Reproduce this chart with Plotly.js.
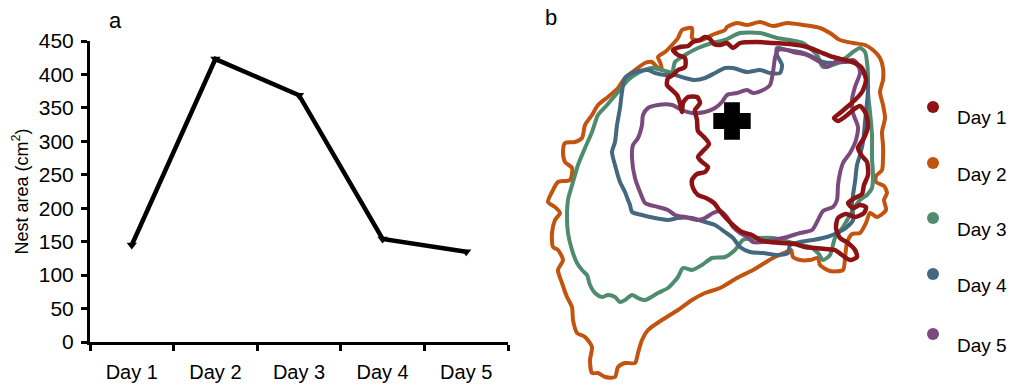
<!DOCTYPE html>
<html>
<head>
<meta charset="utf-8">
<script src="https://cdn.plot.ly/plotly-3.0.1.min.js"></script>
<style>html,body{margin:0;padding:0;background:#fff;}#chart{width:1010px;height:387px;}</style>
</head>
<body>
<div id="chart"></div>
<script>
// ---------- Panel a: nest area per day ----------
const days = ["Day 1", "Day 2", "Day 3", "Day 4", "Day 5"];
const nestArea = [145, 423, 369, 154, 135];
const yTicks = [0, 50, 100, 150, 200, 250, 300, 350, 400, 450];

// ---------- Panel b: nest outlines (image-space units) ----------
const day1X = [673,680,688,693,700,705,710,714,720,727,733,740,757,773,790,807,820,833,845,855,862,866,862,855,847,840,834,838,846,853,860,866,868,864,858,862,867,868,864,862,855,848,853,860,866,864,855,846,838,836,840,848,855,857,850,842,835,826,815,805,795,782,770,760,752,742,734,726,720,714,706,698,693,692,697,705,708,702,698,703,709,704,698,697,695,700,697,688,683,682,680,677,672,667,668,673,678,685,685,678,673];
const day1Y = [50,47,46,42,40,37,39,44,45,43,48,43,42,43,44,47,52,57,60,63,68,80,92,100,107,113,118,121,116,110,106,114,126,138,148,156,162,175,185,194,198,203,208,205,207,213,217,214,218,228,238,243,250,257,260,255,250,249,248,247,244,243,242,240,235,232,226,218,211,203,198,195,188,180,174,172,167,162,157,151,144,137,131,120,110,103,97,97,103,112,103,95,90,85,78,75,70,67,58,55,50];

const day2X = [548,552,558,570,572,565,563,565,575,582,585,592,598,608,618,625,635,645,652,657,662,660,658,665,672,678,682,692,692,695,702,712,725,727,737,747,760,773,787,803,820,830,840,853,865,873,880,883,883,880,883,885,882,883,883,882,876,876,884,887,884,886,877,870,866,860,852,847,845,843,830,820,818,810,800,793,791,784,773,753,737,720,705,692,678,662,648,642,638,635,625,618,615,605,598,592,590,592,585,577,573,572,567,562,558,563,558,553,552,555,560,555,548];
const day2Y = [202,192,182,180,168,162,152,143,142,138,125,115,105,97,88,78,70,63,62,67,70,62,57,52,45,38,30,28,38,40,40,35,30,27,23,25,22,26,23,25,28,33,40,43,45,50,58,68,80,92,105,118,132,145,158,170,176,182,186,193,200,210,217,213,223,233,234,243,258,270,271,265,258,260,260,257,250,253,258,270,278,288,293,300,310,320,330,340,353,363,363,367,377,377,373,373,360,347,337,333,320,307,297,283,270,260,250,247,233,220,213,207,202];

const day3X = [568,567,568,572,577,582,587,590,595,602,608,615,620,625,632,638,645,658,668,673,678,683,692,702,712,725,735,743,760,773,793,810,818,823,830,835,843,853,860,867,872,873,872,872,870,868,868,867,865,860,853,847,833,823,817,803,790,777,760,740,725,712,698,685,675,672,662,652,638,628,618,607,598,592,585,578,573,568];
const day3Y = [200,217,233,250,263,270,275,285,293,297,295,297,302,300,295,298,300,293,288,283,277,268,270,265,258,257,250,240,238,238,243,247,253,260,255,238,227,210,200,195,188,175,158,135,112,92,75,62,52,48,52,57,65,67,55,43,40,38,33,33,40,43,48,55,62,72,70,68,73,80,92,105,115,132,148,165,182,200];

const day4X = [628,625,620,615,612,615,617,620,622,625,635,648,655,665,675,685,695,705,715,725,733,747,760,770,780,782,777,777,787,800,813,823,833,843,853,863,868,867,865,863,860,857,855,853,852,853,847,837,827,813,800,790,788,777,763,750,740,733,725,715,705,692,678,668,655,642,632,630,628];
const day4Y = [200,192,182,165,152,142,125,108,92,78,72,70,73,75,75,78,80,78,73,68,68,72,70,73,73,65,55,48,50,52,57,62,63,62,62,72,85,102,122,142,155,165,182,195,205,220,227,233,237,240,242,245,253,255,253,252,247,238,232,225,222,218,218,220,218,215,212,205,200];

const day5X = [645,640,635,632,633,638,642,643,648,658,672,682,692,705,715,722,727,737,747,753,763,770,773,775,778,787,793,807,820,827,835,845,853,858,860,855,852,853,858,856,850,843,840,838,837,833,823,818,812,800,787,773,763,753,747,740,733,727,720,713,705,698,685,675,668,658,650,645];
const day5Y = [203,192,178,158,145,138,125,115,108,105,105,110,113,112,108,102,95,93,90,93,90,85,72,58,50,50,52,55,62,67,62,62,60,65,73,87,100,113,127,140,153,163,173,185,200,207,211,220,230,233,237,240,242,242,237,233,227,217,211,213,218,220,217,215,210,207,205,203];

const markX = [732];
const markY = [121];

const outlineNames = ["Day 1", "Day 2", "Day 3", "Day 4", "Day 5"];
const outlineColors = ["#8c1213", "#c2540f", "#4f8b6f", "#44687f", "#7b4a7c"];

// ---------- helpers ----------
const FONT = "'Liberation Sans', Arial, sans-serif";
const W = 1010, H = 387;
const px = x => x / W;
const py = y => 1 - y / H;

const outlines = [
  {x: day2X, y: day2Y, i: 1},
  {x: day3X, y: day3Y, i: 2},
  {x: day4X, y: day4Y, i: 3},
  {x: day5X, y: day5Y, i: 4},
  {x: day1X, y: day1Y, i: 0}
];

const traces = [{
  type: "scatter", mode: "lines+markers",
  x: days, y: nestArea, xaxis: "x", yaxis: "y",
  line: {color: "#000", width: 4.5},
  marker: {symbol: "triangle-down", size: 9, color: "#000"},
  hoverinfo: "skip"
}];

outlines.forEach(o => {
  traces.push({
    type: "scatter", mode: "lines",
    x: o.x, y: o.y, xaxis: "x2", yaxis: "y2",
    name: outlineNames[o.i],
    line: {color: outlineColors[o.i], width: o.i === 0 ? 4.5 : 4, shape: "spline", smoothing: 0.7},
    hoverinfo: "skip"
  });
});

traces.push({
  type: "scatter", mode: "markers",
  x: markX, y: markY, xaxis: "x2", yaxis: "y2",
  marker: {symbol: "cross", size: 27, color: "#000", line: {color: "#000", width: 5}},
  hoverinfo: "skip"
});

// legend for panel b
const legendDotY = [107, 163, 218, 274, 334];
const shapes = [];
const annotations = [
  {text: "a", x: px(115), y: py(20), xref: "paper", yref: "paper", showarrow: false, xanchor: "center", yanchor: "middle", font: {family: FONT, size: 22, color: "#000"}},
  {text: "b", x: px(551), y: py(18), xref: "paper", yref: "paper", showarrow: false, xanchor: "center", yanchor: "middle", font: {family: FONT, size: 22, color: "#000"}}
];
outlineNames.forEach((n, i) => {
  const cy = legendDotY[i];
  shapes.push({type: "circle", xref: "paper", yref: "paper",
    x0: px(927), x1: px(939), y0: py(cy + 6), y1: py(cy - 6),
    fillcolor: outlineColors[i], line: {width: 0}});
  annotations.push({text: n, x: px(955), y: py(cy + 11), xref: "paper", yref: "paper",
    showarrow: false, xanchor: "left", yanchor: "middle",
    font: {family: FONT, size: 19, color: "#000"}});
});

const layout = {
  width: W, height: H,
  margin: {l: 0, r: 0, t: 0, b: 0},
  paper_bgcolor: "#fff", plot_bgcolor: "rgba(0,0,0,0)",
  showlegend: false,
  font: {family: FONT, color: "#000"},
  xaxis: {
    domain: [px(90), px(508)], anchor: "y",
    type: "category", range: [-0.5, 4.5], tickson: "boundaries",
    ticks: "outside", ticklen: 6, tickwidth: 3, tickcolor: "#000",
    ticklabelstandoff: 10,
    showline: true, linewidth: 3, linecolor: "#000",
    showgrid: false, zeroline: false,
    tickfont: {family: FONT, size: 20, color: "#000"}
  },
  yaxis: {
    domain: [py(342), py(41)], anchor: "x",
    range: [0, 450], tickvals: yTicks,
    ticks: "outside", ticklen: 6, tickwidth: 3, tickcolor: "#000",
    ticklabelstandoff: 3,
    showline: true, linewidth: 3, linecolor: "#000",
    showgrid: false, zeroline: false,
    tickfont: {family: FONT, size: 21, color: "#000"},
    title: {text: "Nest area (cm<sup>2</sup>)", font: {family: FONT, size: 18, color: "#000"}, standoff: 6}
  },
  xaxis2: {domain: [px(540), 1], range: [540, 1010], anchor: "y2", visible: false, fixedrange: true},
  yaxis2: {domain: [0, 1], range: [387, 0], anchor: "x2", visible: false, fixedrange: true},
  shapes: shapes,
  annotations: annotations
};

Plotly.newPlot("chart", traces, layout, {displayModeBar: false, staticPlot: true});
</script>
</body>
</html>
